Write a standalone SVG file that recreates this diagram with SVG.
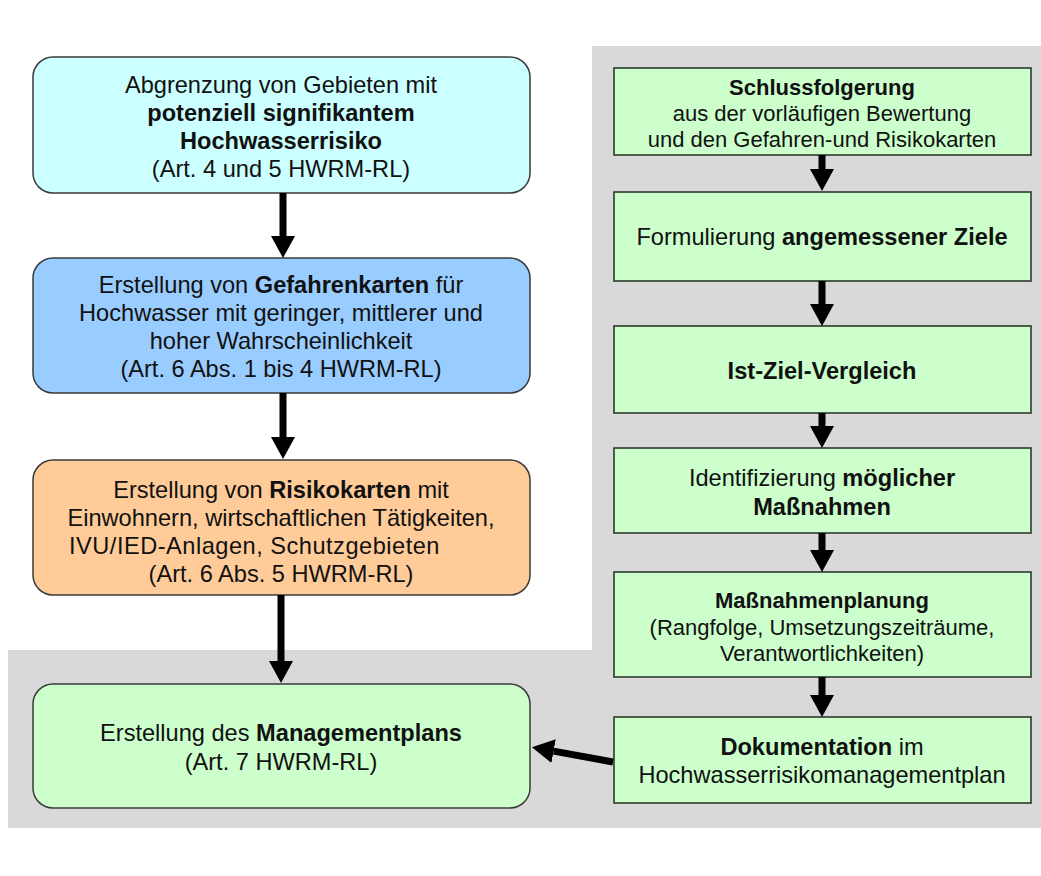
<svg xmlns="http://www.w3.org/2000/svg" width="1041" height="876" viewBox="0 0 1041 876">
<style>
text{font-family:"Liberation Sans",Arial,sans-serif;font-size:23.6px;fill:#111;text-anchor:middle}
.s{font-size:22px}
.b{font-weight:bold}
.rb{stroke:#3a3a3a;stroke-width:1.5}
.sq{stroke:#2b3a2b;stroke-width:1.6;fill:#ccffcc}
.ar{stroke:#000;stroke-width:7;fill:none;marker-end:url(#ah)}
</style>
<defs>
<marker id="ah" markerUnits="userSpaceOnUse" markerWidth="22" markerHeight="24" viewBox="0 0 22 24" refX="0" refY="12" orient="auto">
<path d="M0,0 L22,12 L0,24 Z" fill="#000"/>
</marker>
</defs>
<rect width="1041" height="876" fill="#fff"/>
<path id="bg" d="M8,650 H592 V46 H1041 V828 H8 Z" fill="#d9d9d9"/>

<g id="n1">
<rect class="rb" x="33" y="57" width="497" height="136" rx="20" fill="#ccffff"/>
<text x="281" y="93">Abgrenzung von Gebieten mit</text>
<text x="281" y="121" class="b">potenziell signifikantem</text>
<text x="281" y="149" class="b">Hochwasserrisiko</text>
<text x="281" y="177">(Art. 4 und 5 HWRM-RL)</text>
</g>
<g id="n2">
<rect class="rb" x="33" y="258" width="497" height="135" rx="20" fill="#99ccff"/>
<text x="281" y="293">Erstellung von <tspan class="b">Gefahrenkarten</tspan> für</text>
<text x="281" y="321">Hochwasser mit geringer, mittlerer und</text>
<text x="281" y="349">hoher Wahrscheinlichkeit</text>
<text x="281" y="377">(Art. 6 Abs. 1 bis 4 HWRM-RL)</text>
</g>
<g id="n3">
<rect class="rb" x="33" y="460" width="497" height="135" rx="20" fill="#ffcc99"/>
<text x="281" y="498">Erstellung von <tspan class="b">Risikokarten</tspan> mit</text>
<text x="281" y="526">Einwohnern, wirtschaftlichen Tätigkeiten,</text>
<text x="69" y="554" style="text-anchor:start;letter-spacing:0.5px">IVU/IED-Anlagen, Schutzgebieten</text>
<text x="281" y="582">(Art. 6 Abs. 5 HWRM-RL)</text>
</g>
<g id="n4">
<rect class="rb" x="33" y="684" width="497" height="124" rx="20" fill="#ccffcc"/>
<text x="281" y="741">Erstellung des <tspan class="b">Managementplans</tspan></text>
<text x="281" y="770">(Art. 7 HWRM-RL)</text>
</g>

<g id="r1">
<rect class="sq" x="614" y="68" width="417" height="87"/>
<text x="822" y="95" class="s b">Schlussfolgerung</text>
<text x="822" y="121" class="s">aus der vorläufigen Bewertung</text>
<text x="822" y="147" class="s">und den Gefahren-und Risikokarten</text>
</g>
<g id="r2">
<rect class="sq" x="614" y="192" width="417" height="89"/>
<text x="822" y="245">Formulierung <tspan class="b">angemessener Ziele</tspan></text>
</g>
<g id="r3">
<rect class="sq" x="614" y="326" width="417" height="87"/>
<text x="822" y="379" class="b">Ist-Ziel-Vergleich</text>
</g>
<g id="r4">
<rect class="sq" x="614" y="448" width="417" height="85"/>
<text x="822" y="486">Identifizierung <tspan class="b">möglicher</tspan></text>
<text x="822" y="515" class="b">Maßnahmen</text>
</g>
<g id="r5">
<rect class="sq" x="614" y="572" width="417" height="105"/>
<text x="822" y="608" class="s b">Maßnahmenplanung</text>
<text x="822" y="635" class="s">(Rangfolge, Umsetzungszeiträume,</text>
<text x="822" y="661" class="s">Verantwortlichkeiten)</text>
</g>
<g id="r6">
<rect class="sq" x="614" y="717" width="417" height="86"/>
<text x="822" y="755"><tspan class="b">Dokumentation</tspan> im</text>
<text x="822" y="783">Hochwasserrisikomanagementplan</text>
</g>

<g id="connectors">
<line class="ar" x1="283" y1="193" x2="283" y2="236"/>
<line class="ar" x1="283" y1="393" x2="283" y2="437"/>
<line class="ar" x1="281" y1="595" x2="281" y2="661"/>
<line class="ar" x1="822" y1="155" x2="822" y2="169"/>
<line class="ar" x1="822" y1="281" x2="822" y2="304"/>
<line class="ar" x1="822" y1="413" x2="822" y2="426"/>
<line class="ar" x1="822" y1="533" x2="822" y2="550"/>
<line class="ar" x1="822" y1="677" x2="822" y2="695"/>
<line class="ar" x1="613" y1="762" x2="553.6" y2="751.1"/>
</g>
</svg>
